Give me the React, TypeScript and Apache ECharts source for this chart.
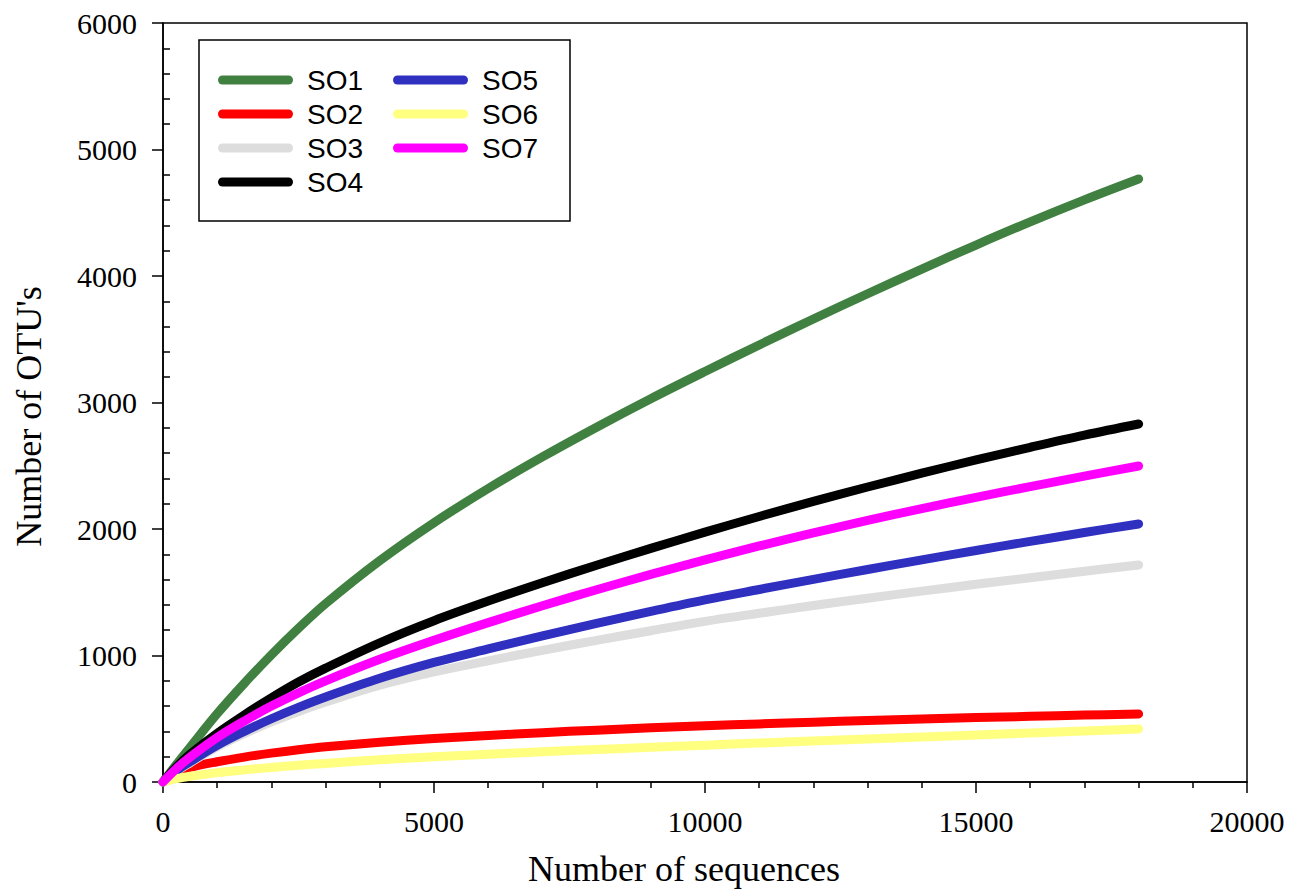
import React, { useEffect, useRef } from "react";
import * as echarts from "echarts";

const seqCounts = [0, 250, 500, 1000, 1500, 2000, 2500, 3000, 4000, 5000, 6000, 7000, 8000, 9000, 10000, 11000, 12000, 13000, 14000, 15000, 16000, 17000, 18000];

const so1 = [0, 140, 275, 540, 780, 1005, 1215, 1410, 1750, 2050, 2320, 2570, 2805, 3030, 3245, 3455, 3660, 3860, 4055, 4245, 4428, 4602, 4767];
const so2 = [0, 75, 115, 160, 197, 228, 255, 278, 314, 343, 368, 390, 410, 428, 444, 459, 473, 486, 498, 509, 519, 529, 538];
const so3 = [0, 85, 152, 278, 382, 475, 558, 632, 765, 870, 958, 1041, 1120, 1196, 1270, 1334, 1395, 1453, 1509, 1563, 1615, 1666, 1715];
const so4 = [0, 120, 220, 385, 530, 665, 790, 900, 1100, 1275, 1430, 1575, 1714, 1847, 1975, 2099, 2218, 2332, 2441, 2546, 2646, 2742, 2830];
const so5 = [0, 90, 160, 290, 400, 500, 590, 672, 820, 945, 1052, 1155, 1254, 1349, 1440, 1522, 1602, 1680, 1756, 1830, 1902, 1972, 2040];
const so6 = [0, 26, 45, 74, 96, 115, 132, 147, 175, 200, 220, 239, 257, 274, 291, 308, 324, 340, 356, 372, 388, 404, 419];
const so7 = [0, 107, 197, 352, 482, 600, 705, 800, 970, 1120, 1260, 1393, 1520, 1641, 1756, 1866, 1970, 2068, 2161, 2250, 2335, 2418, 2498];

const seriesNames = ["SO1", "SO2", "SO3", "SO4", "SO5", "SO6", "SO7"];
const seriesValues = [so1, so2, so3, so4, so5, so6, so7];
const seriesColors = ["#408040", "#ff0000", "#dddddd", "#000000", "#3030c0", "#ffff80", "#ff00ff"];

const xTitle = "Number of sequences";
const yTitle = "Number of OTU's";

const serif = "'Liberation Serif', 'Times New Roman', serif";
const sans = "'Liberation Sans', Arial, sans-serif";

export default function App() {
  const ref = useRef<HTMLDivElement>(null);

  useEffect(() => {
    if (!ref.current) return;
    const chart = echarts.init(ref.current, null, { renderer: "svg" });
    const gridBox = { left: 163, top: 23, right: 56, bottom: 108 };
    const axisLineStyle = { color: "#000", width: 1.5 };
    const plain = (v: number) => String(v);

    const series = seriesNames.map((name, i) => ({
      name,
      type: "line",
      xAxisIndex: 0,
      yAxisIndex: 0,
      data: seqCounts.map((x, j) => [x, seriesValues[i][j]]),
      smooth: 0.35,
      showSymbol: false,
      symbol: "none",
      color: seriesColors[i],
      itemStyle: { color: seriesColors[i] },
      lineStyle: { color: seriesColors[i], width: 9, cap: "round", join: "round" },
      z: 2 + i,
    }));

    chart.setOption({
      animation: false,
      backgroundColor: "#fff",
      grid: [
        { ...gridBox, show: true, borderColor: "#000", borderWidth: 1.5, backgroundColor: "transparent", containLabel: false, outerBoundsMode: "none" },
        { ...gridBox, show: false, containLabel: false, outerBoundsMode: "none" },
      ],
      xAxis: [
        {
          type: "value",
          gridIndex: 0,
          min: 0,
          max: 20000,
          interval: 5000,
          axisLine: { show: true, lineStyle: axisLineStyle },
          axisTick: { show: true, inside: false, length: 11, lineStyle: axisLineStyle },
          minorTick: { show: true, splitNumber: 5, length: 6, lineStyle: axisLineStyle },
          splitLine: { show: false },
          minorSplitLine: { show: false },
          axisLabel: { color: "#000", fontFamily: serif, fontSize: 30, margin: 24, formatter: plain },
          name: xTitle,
          nameLocation: "middle",
          nameGap: 69,
          nameTextStyle: { color: "#000", fontFamily: serif, fontSize: 36, padding: [0, 42, 0, 0] },
        },
        { type: "value", gridIndex: 1, min: 0, max: 20000, show: false },
      ],
      yAxis: [
        {
          type: "value",
          gridIndex: 0,
          min: 0,
          max: 6000,
          interval: 1000,
          axisLine: { show: true, lineStyle: axisLineStyle },
          axisTick: { show: true, inside: false, length: 11, lineStyle: axisLineStyle },
          splitLine: { show: false },
          axisLabel: { color: "#000", fontFamily: serif, fontSize: 30, margin: 26, formatter: plain },
          name: yTitle,
          nameLocation: "middle",
          nameGap: 116,
          nameTextStyle: { color: "#000", fontFamily: serif, fontSize: 36, padding: [0, 28, 0, 0] },
        },
        {
          type: "value",
          gridIndex: 1,
          position: "left",
          min: 0,
          max: 6000,
          interval: 1000,
          axisLine: { show: false },
          axisTick: { show: false, inside: true },
          minorTick: { show: true, splitNumber: 5, length: 7, lineStyle: axisLineStyle },
          axisLabel: { show: false },
          splitLine: { show: false },
        },
      ],
      legend: {
        orient: "vertical",
        left: 199,
        top: 40,
        height: 140,
        padding: [23, 2, 22, 19],
        itemGap: 0,
        itemWidth: 75,
        itemHeight: 9,
        icon: "path://M4.5,0L70.5,0A4.5,4.5,0,0,1,70.5,9L4.5,9A4.5,4.5,0,0,1,4.5,0Z",
        itemStyle: { borderWidth: 0 },
        borderColor: "#000",
        borderWidth: 1.5,
        backgroundColor: "#fff",
        textStyle: { color: "#000", fontFamily: sans, fontSize: 28, lineHeight: 34, width: 86, padding: [0, 0, 0, 9] },
        data: seriesNames,
      },
      series,
    });

    return () => chart.dispose();
  }, []);

  return (
    <div
      ref={ref}
      style={{ position: "fixed", left: 0, top: 0, width: "1303px", height: "890px", background: "#fff" }}
    />
  );
}
